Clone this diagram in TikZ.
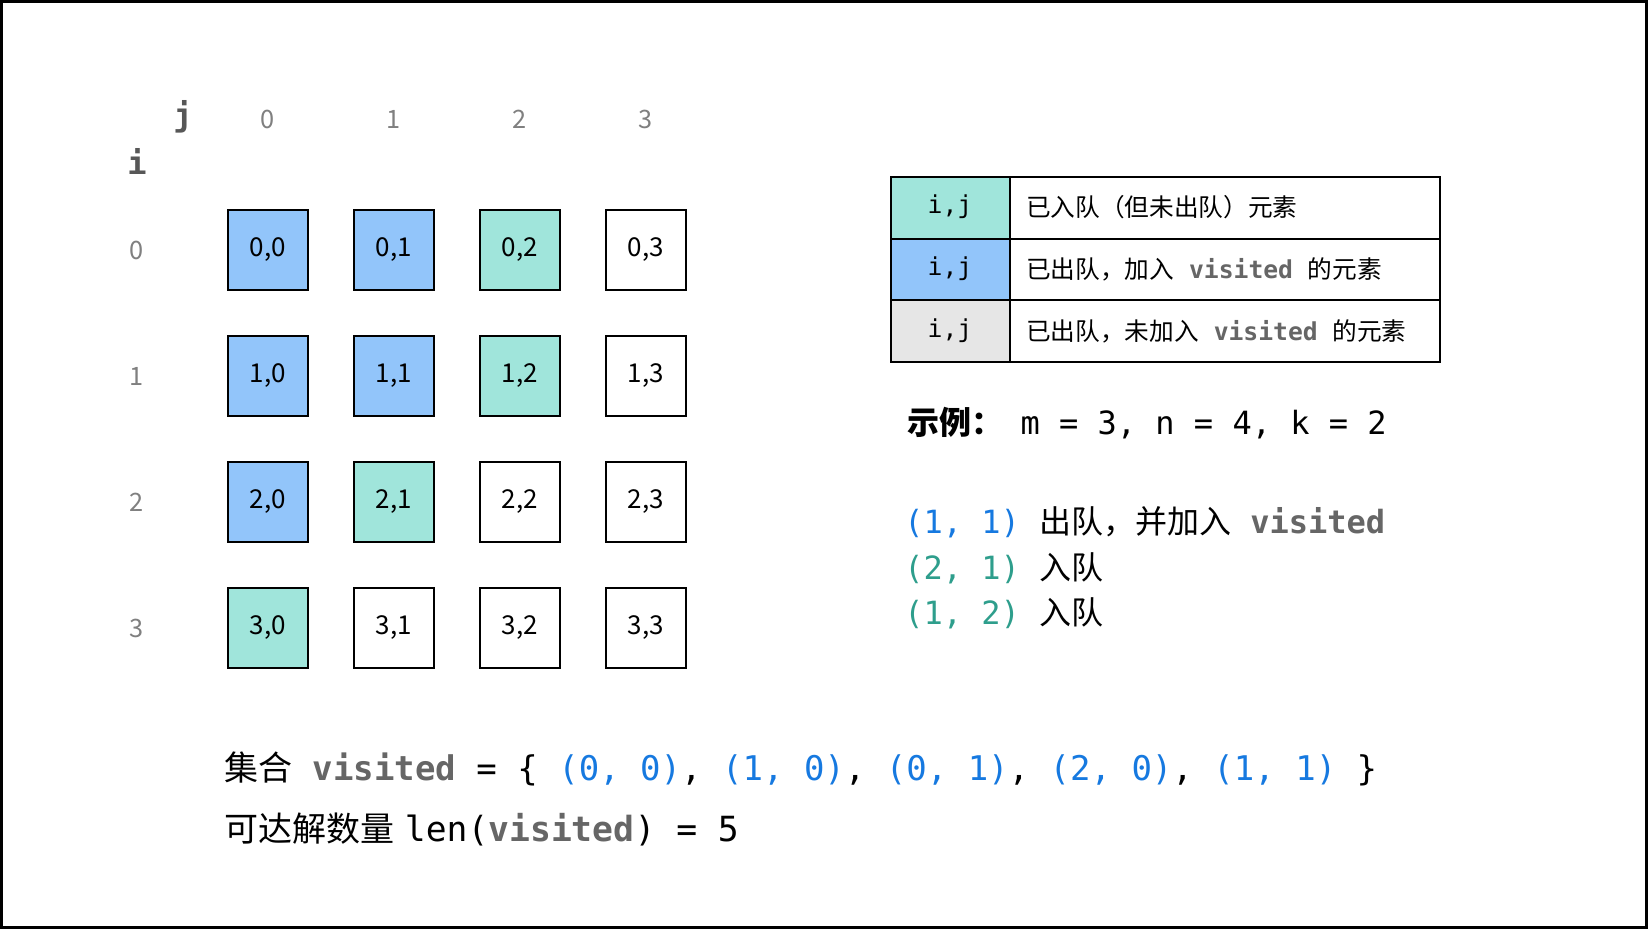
\documentclass[tikz,border=0pt]{standalone}
\usepackage{fontspec}
\setmainfont{Noto Sans CJK SC}
\setmonofont{DejaVu Sans Mono}
\newfontfamily\cjk{Noto Sans CJK SC}
\definecolor{qblue}{HTML}{92C5FA}
\definecolor{qgreen}{HTML}{A0E5DB}
\definecolor{qgrey}{HTML}{E6E6E6}
\definecolor{tblue}{HTML}{1679E0}
\definecolor{tteal}{HTML}{2E9E8C}
\definecolor{vgrey}{HTML}{666666}
\definecolor{lgrey}{HTML}{808080}
\newcommand\vis{\textcolor{vgrey}{\ttfamily\bfseries visited}}
\newcommand\msp{{\ttfamily\ }}
\tikzset{
  cell/.style={draw=black, line width=1.5pt, minimum width=60pt, minimum height=60pt, inner sep=0pt,
    font=\fontsize{19.5}{22}\selectfont},
  bluec/.style={cell, fill=qblue},
  greenc/.style={cell, fill=qgreen},
  whitec/.style={cell, fill=white},
  hdr/.style={text=lgrey, font=\fontsize{19}{22}\selectfont},
  axis/.style={text=vgrey!85!black, font=\ttfamily\bfseries\fontsize{24}{28}\selectfont},
  legtxt/.style={anchor=west, inner sep=0pt, font=\fontsize{18.5}{22}\selectfont},
  legkey/.style={font=\ttfamily\fontsize{18.5}{22}\selectfont},
  bigtxt/.style={anchor=west, inner sep=0pt, font=\fontsize{24}{28}\selectfont},
  bottxt/.style={anchor=west, inner sep=0pt, font=\fontsize{25.5}{30}\selectfont},
}
\begin{document}
\begin{tikzpicture}[x=0.75pt, y=-0.75pt]
\useasboundingbox (0,0) rectangle (1648,929);
\fill[white] (0,0) rectangle (1648,929);
\draw[black, line width=2.5pt] (1.5,1.5) rectangle (1646.5,927.5);

% axis labels
\node[axis] (jlab) at (183,117) {j};
\node[axis] (ilab) at (137,161) {i};
\foreach \c/\x in {0/268,1/394,2/520,3/646} {
  \node[hdr] (col\c) at (\x,119) {\c};
}
\foreach \r/\y in {0/250,1/376,2/502,3/628} {
  \node[hdr] (row\r) at (137,\y) {\r};
}

% grid
\node[bluec]  (c00) at (268,250) {0,0};
\node[bluec]  (c01) at (394,250) {0,1};
\node[greenc] (c02) at (520,250) {0,2};
\node[whitec] (c03) at (646,250) {0,3};
\node[bluec]  (c10) at (268,376) {1,0};
\node[bluec]  (c11) at (394,376) {1,1};
\node[greenc] (c12) at (520,376) {1,2};
\node[whitec] (c13) at (646,376) {1,3};
\node[bluec]  (c20) at (268,502) {2,0};
\node[greenc] (c21) at (394,502) {2,1};
\node[whitec] (c22) at (520,502) {2,2};
\node[whitec] (c23) at (646,502) {2,3};
\node[greenc] (c30) at (268,628) {3,0};
\node[whitec] (c31) at (394,628) {3,1};
\node[whitec] (c32) at (520,628) {3,2};
\node[whitec] (c33) at (646,628) {3,3};

% legend
\fill[qgreen] (891,177) rectangle (1010,239);
\fill[qblue]  (891,239) rectangle (1010,300);
\fill[qgrey]  (891,300) rectangle (1010,362);
\draw[line width=1.5pt] (891,177) rectangle (1440,362);
\draw[line width=1.5pt] (1010,177) -- (1010,362);
\draw[line width=1.5pt] (891,239) -- (1440,239);
\draw[line width=1.5pt] (891,300) -- (1440,300);
\node[legkey] (k1) at (950,207) {i,j};
\node[legkey] (k2) at (950,269) {i,j};
\node[legkey] (k3) at (950,331) {i,j};
\node[legtxt] (t1) at (1026,207) {已入队（但未出队）元素};
\node[legtxt] (t2) at (1026,269) {已出队，加入\msp\vis\msp 的元素};
\node[legtxt] (t3) at (1026,331) {已出队，未加入\msp\vis\msp 的元素};

% example
\node[bigtxt] (ex) at (907,423) {\textbf{示例：}\hspace{13pt}{\ttfamily m = 3, n = 4, k = 2}};
\node[bigtxt] (l1) at (904,522) {\textcolor{tblue}{\ttfamily (1, 1)}\msp 出队，并加入\msp\vis};
\node[bigtxt] (l2) at (904,568) {\textcolor{tteal}{\ttfamily (2, 1)}\msp 入队};
\node[bigtxt] (l3) at (904,613) {\textcolor{tteal}{\ttfamily (1, 2)}\msp 入队};

% bottom
\node[bottxt] (b1) at (224,769) {集合\msp{\ttfamily\textcolor{vgrey}{\bfseries visited} = \{ \textcolor{tblue}{(0, 0)}, \textcolor{tblue}{(1, 0)}, \textcolor{tblue}{(0, 1)}, \textcolor{tblue}{(2, 0)}, \textcolor{tblue}{(1, 1)} \}}};
\node[bottxt] (b2) at (224,829) {可达解数量{\ttfamily\fontsize{26}{30}\selectfont\hspace{8pt}len(\textcolor{vgrey}{\bfseries visited}) = 5}};
\end{tikzpicture}
\end{document}
